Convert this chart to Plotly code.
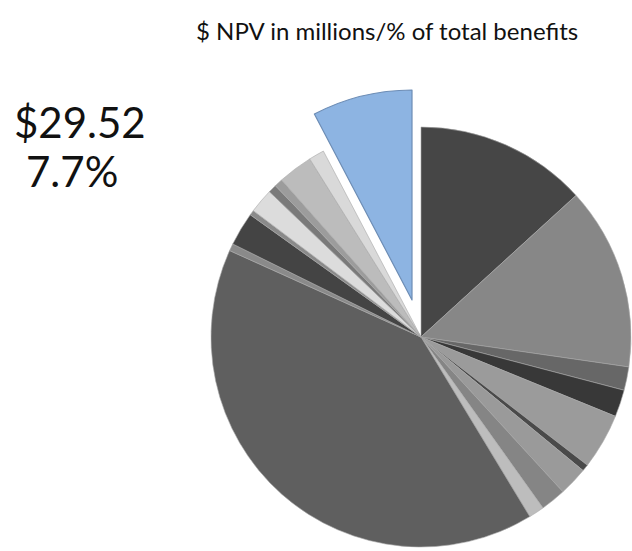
import plotly.graph_objects as go

# Benefit categories ($ NPV in millions), clockwise from 12 o'clock
categories = [f"Benefit {i+1}" for i in range(19)]
values = [50.72, 53.92, 6.93, 7.99, 16.41, 2.02, 8.53, 7.46, 4.58, 155.05,
          2.13, 9.91, 1.49, 7.25, 2.45, 2.45, 10.23, 4.58, 29.52]
colors = ["#464646", "#878787", "#676767", "#383838", "#9b9b9b", "#4a4a4a",
          "#9a9a9a", "#858585", "#bdbdbd", "#5f5f5f", "#8a8a8a", "#444444",
          "#8a8a8a", "#dcdcdc", "#7a7a7a", "#9c9c9c", "#bcbcbc", "#d9d9d9",
          "#8db4e2"]
highlight_index = 18
highlight_value_label = "$29.52"
highlight_pct_label = "7.7%"
title_text = "$ NPV in millions/% of total benefits"

W, H = 632, 551
R = 210
CX, CY = 421, 337      # pie centre (px)
PCX, PCY = 412, 300    # centre of exploded highlighted slice (px)

def domain(cx, cy, r):
    return dict(x=[max(0, (cx - r) / W), min(1, (cx + r) / W)],
                y=[max(0, 1 - (cy + r) / H), min(1, 1 - (cy - r) / H)])

n = len(values)
base_colors = [c if i != highlight_index else "rgba(0,0,0,0)" for i, c in enumerate(colors)]
base_lw = [0.6 if i != highlight_index else 0 for i in range(n)]
hi_colors = [c if i == highlight_index else "rgba(0,0,0,0)" for i, c in enumerate(colors)]
hi_lw = [1.2 if i == highlight_index else 0 for i in range(n)]

fig = go.Figure()
fig.add_trace(go.Pie(
    labels=categories, values=values, sort=False, direction="clockwise",
    rotation=0, textinfo="none", hoverinfo="label+value+percent",
    marker=dict(colors=base_colors, line=dict(color="#a8a8a8", width=base_lw)),
    domain=domain(CX, CY, R), showlegend=False,
))
fig.add_trace(go.Pie(
    labels=categories, values=values, sort=False, direction="clockwise",
    rotation=0, textinfo="none", hoverinfo="skip",
    marker=dict(colors=hi_colors, line=dict(color="#6d8db5", width=hi_lw)),
    domain=domain(PCX, PCY, R), showlegend=False,
))

def px_annot(text, x, y, size):
    fig.add_annotation(text=text, x=x / W, y=1 - y / H,
                       xref="paper", yref="paper", xanchor="center", yanchor="middle",
                       showarrow=False, font=dict(family="Lato", size=size, color="#111111"))

px_annot(title_text, 387, 31, 24)
px_annot(highlight_value_label, 80, 122, 42)
px_annot(highlight_pct_label, 72, 171, 42)

fig.update_layout(width=W, height=H, margin=dict(l=0, r=0, t=0, b=0),
                  paper_bgcolor="white", plot_bgcolor="white")
fig.write_html("out.html", config={"displayModeBar": False},
               post_script="document.body.style.margin='0';document.body.style.overflow='hidden';")
